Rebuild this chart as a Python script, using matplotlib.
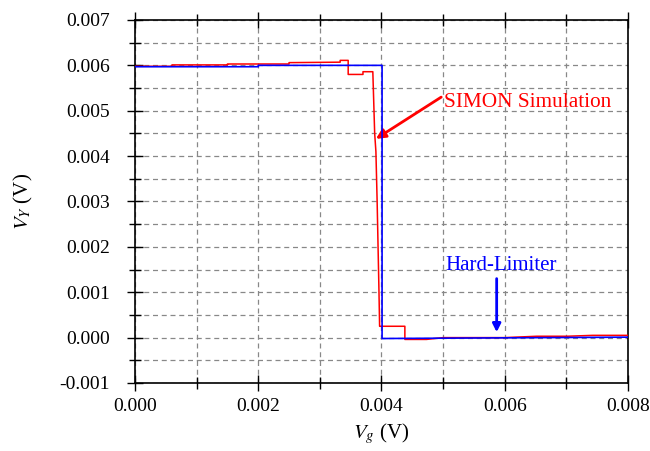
import matplotlib
matplotlib.use('Agg')
import matplotlib.pyplot as plt
from matplotlib.ticker import MultipleLocator, FormatStrFormatter

plt.rcParams['font.family'] = ['Liberation Serif', 'DejaVu Serif']
plt.rcParams['mathtext.fontset'] = 'stix'

# hard limiter (blue)
hl_x = [0.0, 0.0020, 0.0020, 0.00401, 0.00401, 0.008]
hl_y = [0.00597, 0.00597, 0.00600, 0.00600, -0.00002, 0.00001]

# SIMON simulation (red)
sim_x = [0.0, 0.0006, 0.0006, 0.0015, 0.0015, 0.0025, 0.0025, 0.00333, 0.00333,
         0.00346, 0.00346, 0.0037, 0.0037, 0.00386, 0.00389, 0.00391, 0.00393,
         0.00396, 0.00397, 0.00438, 0.00438, 0.00473, 0.0050, 0.00557, 0.0060,
         0.00652, 0.00701, 0.00743, 0.008]
sim_y = [0.00598, 0.00598, 0.00601, 0.00601, 0.00603, 0.00603, 0.00606, 0.00607, 0.00611,
         0.00611, 0.00580, 0.00580, 0.00586, 0.00586, 0.0045, 0.0041, 0.0030,
         0.0010, 0.00025, 0.00025, -0.00004, -0.00004, 0.0, 0.0, 0.0,
         0.00003, 0.00003, 0.00005, 0.00005]

fig = plt.figure(figsize=(6.5, 4.51), dpi=100)
ax = fig.add_subplot(111)
fig.subplots_adjust(left=0.2077, right=0.966, top=0.9557, bottom=0.1508)

ax.plot(sim_x, sim_y, color='red', lw=1.1, zorder=3)
ax.plot(hl_x, hl_y, color='blue', lw=1.2, zorder=4)

ax.set_xlim(0, 0.008)
ax.set_ylim(-0.001, 0.007)
ax.xaxis.set_major_locator(MultipleLocator(0.002))
ax.xaxis.set_minor_locator(MultipleLocator(0.001))
ax.yaxis.set_major_locator(MultipleLocator(0.001))
ax.yaxis.set_minor_locator(MultipleLocator(0.0005))
ax.xaxis.set_major_formatter(FormatStrFormatter('%.3f'))
ax.yaxis.set_major_formatter(FormatStrFormatter('%.3f'))

ax.grid(which='both', color='#888888', ls=(0, (4, 3)), lw=0.9)
ax.tick_params(which='major', direction='inout', length=12, width=1, labelsize=14, top=True, right=False)
ax.tick_params(which='minor', direction='inout', length=8, width=1, top=True, right=False)
ax.tick_params(axis='x', pad=5)
ax.tick_params(axis='y', pad=12)
for s in ax.spines.values():
    s.set_linewidth(1.2)

ax.set_xlabel('$V_g$ (V)', fontsize=15)
ax.set_ylabel('$V_Y$ (V)', fontsize=15, labelpad=18)

# annotations
ax.text(0.00502, 0.00518, 'SIMON Simulation', color='red', fontsize=15.3, va='center', ha='left')
ax.annotate('', xy=(0.00391, 0.00438), xytext=(0.00497, 0.00530),
            arrowprops=dict(arrowstyle='-|>', color='red', lw=2, mutation_scale=14,
                            shrinkA=0, shrinkB=0))
ax.text(0.00594, 0.00159, 'Hard-Limiter', color='blue', fontsize=15, va='center', ha='center')
ax.annotate('', xy=(0.00587, 0.00012), xytext=(0.00587, 0.00130),
            arrowprops=dict(arrowstyle='-|>', color='blue', lw=2, mutation_scale=12,
                            shrinkA=0, shrinkB=0))

fig.savefig('out.png', dpi=100)
